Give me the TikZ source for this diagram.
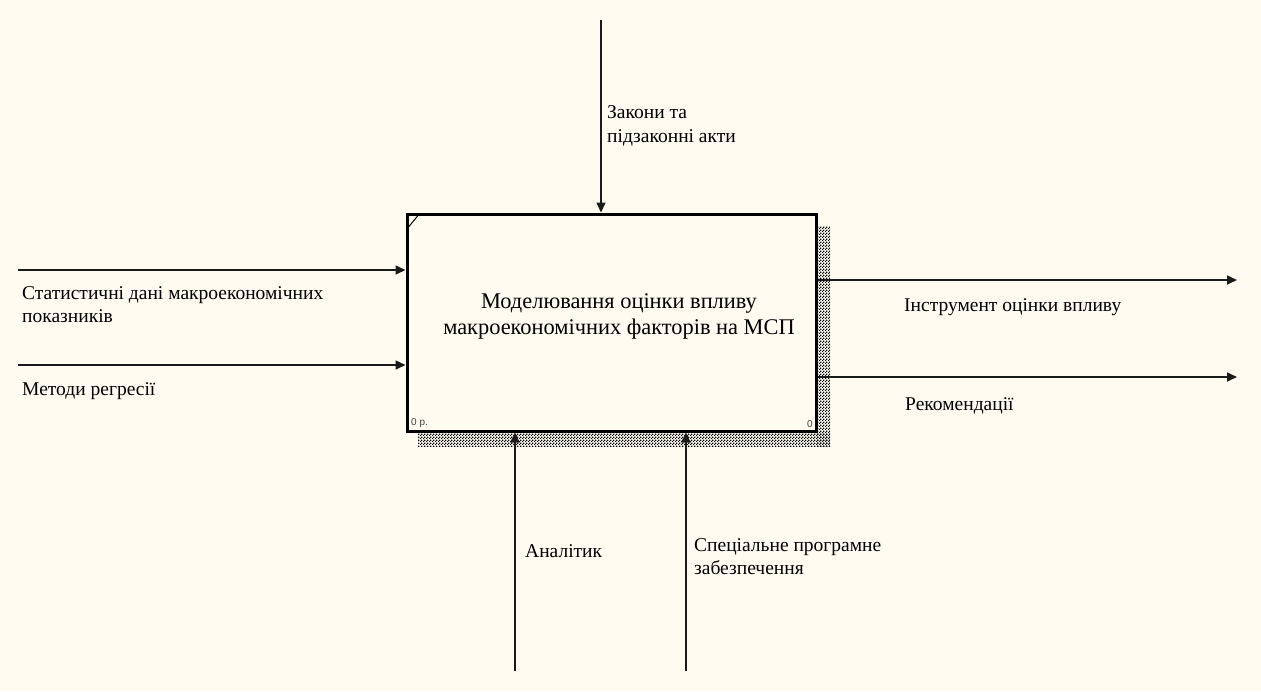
\documentclass[tikz,border=0pt]{standalone}
\usepackage{fontspec}
\setmainfont{Liberation Serif}
\newfontfamily\smallsans{Liberation Sans}
\usetikzlibrary{arrows.meta,patterns}
\definecolor{paper}{HTML}{FFFBF1}
\definecolor{ink}{HTML}{1A1A1A}
\pgfdeclarepatternformonly{shadowdots}{\pgfpointorigin}{\pgfpoint{3pt}{3pt}}{\pgfpoint{3pt}{3pt}}{%
  \pgfpathrectangle{\pgfpoint{0pt}{0pt}}{\pgfpoint{1.5pt}{1.5pt}}%
  \pgfpathrectangle{\pgfpoint{1.5pt}{1.5pt}}{\pgfpoint{1.5pt}{1.5pt}}%
  \pgfusepath{fill}}
\tikzset{
  flow/.style={draw=ink, line width=1.6pt, -{Triangle[length=10pt,width=9pt]}},
  lbl/.style={anchor=west, inner sep=0pt, font=\fontsize{19.5}{23.5}\selectfont, align=left, text=black},
  func/.style={draw=black, line width=3pt, fill=paper, minimum width=409pt, minimum height=217pt, inner sep=0pt},
  functext/.style={inner sep=0pt, align=center, font=\fontsize{22.4}{26}\selectfont, text=black},
  tag/.style={inner sep=0pt, font=\smallsans\fontsize{10}{10}\selectfont, text=black!75}
}
\begin{document}
\begin{tikzpicture}[x=1pt,y=-1pt]
\fill[paper] (0,0) rectangle (1261,691);
\useasboundingbox (0,0) rectangle (1261,691);
% shadow
\fill[pattern=shadowdots, pattern color=black] (817,226) rectangle (830,446);
\fill[pattern=shadowdots, pattern color=black] (418,432) rectangle (830,446);
% function box
\node[func] (box) at (611.5,322.5) {};
\node[functext] (boxtext) at (619,316) {Моделювання оцінки впливу\\ макроекономічних факторів на МСП};
\draw[black, line width=1pt] (408.5,227) -- (418,215.5);
\node[tag, anchor=south west] (nl) at (411,428) {0 р.};
\node[tag, anchor=south east] (nr) at (813,428) {0};
% coordinates of free ends
\coordinate (i1s) at (18,270);
\coordinate (i2s) at (18,365);
\coordinate (cs) at (601,20);
\coordinate (o1e) at (1237,280);
\coordinate (o2e) at (1237,377);
\coordinate (m1s) at (515,671);
\coordinate (m2s) at (686,671);
% arrows
\draw[flow] (i1s) -- (i1s -| box.west);
\draw[flow] (i2s) -- (i2s -| box.west);
\draw[flow] (cs) -- (cs |- box.north);
\draw[flow] (o1e -| box.east) -- (o1e);
\draw[flow] (o2e -| box.east) -- (o2e);
\draw[flow] (m1s) -- (m1s |- box.south);
\draw[flow] (m2s) -- (m2s |- box.south);
% labels
\node[lbl] (l1) at (22,304.5) {Статистичні дані макроекономічних\\показників};
\node[lbl] (l2) at (22,391) {Методи регресії};
\node[lbl] (l3) at (607,126) {Закони та\\підзаконні акти};
\node[lbl] (l4) at (904,307) {Інструмент оцінки впливу};
\node[lbl] (l5) at (905,406) {Рекомендації};
\node[lbl] (l6) at (525,551) {Аналітик};
\node[lbl] (l7) at (694,556.5) {Спеціальне програмне\\забезпечення};
\end{tikzpicture}
\end{document}
